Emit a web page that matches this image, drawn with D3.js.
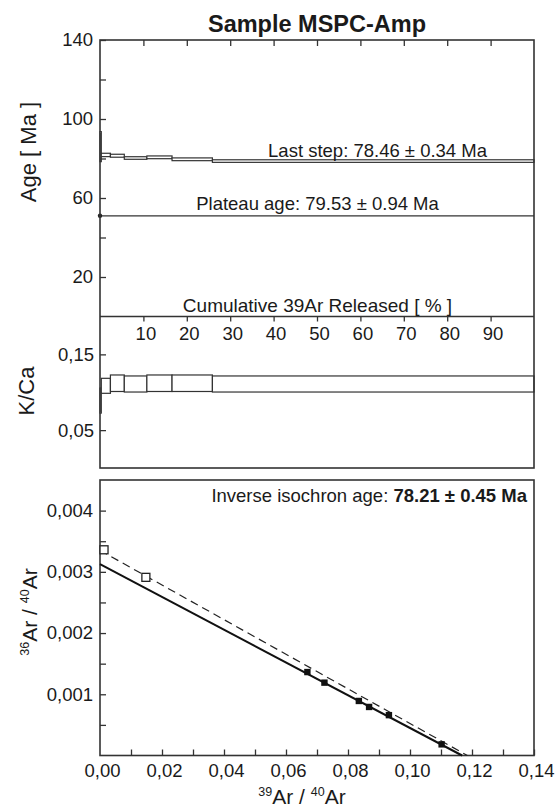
<!DOCTYPE html>
<html><head><meta charset="utf-8">
<script src="https://cdn.jsdelivr.net/npm/d3@7"></script>
<style>
body{margin:0;background:#fff;}
svg{display:block;font-family:"Liberation Sans",Arial,sans-serif;}
text{fill:#1a1a1a;}
</style></head>
<body><svg id="c" width="557" height="809"></svg>
<script>
// ---------- DATA ----------
// age spectrum steps: cumulative 39Ar start/end (%), age (Ma), error (Ma)
const stepStart = [0, 0.3, 2.4, 5.6, 10.8, 16.6, 25.9];
const stepEnd   = [0.3, 2.4, 5.6, 10.8, 16.6, 25.9, 100];
const stepAge   = [86.0, 81.8, 81.4, 80.25, 80.6, 79.6, 78.7];
const stepAgeErr= [7.6, 0.85, 0.75, 0.65, 0.7, 0.7, 0.65];
const stepKCa   = [0.089, 0.1085, 0.1119, 0.1109, 0.1119, 0.1119, 0.1109];
const stepKCaErr= [0.0165, 0.0099, 0.0109, 0.0106, 0.0109, 0.0109, 0.0106];
const plateauLineAge = 51;

// isochron points
const isoX = [0.0669, 0.0724, 0.0835, 0.0868, 0.0932, 0.1102];
const isoY = [0.001363, 0.00119, 0.000891, 0.000793, 0.000659, 0.000182];
const excludedX = [0.0013, 0.0148];
const excludedY = [0.00336, 0.00291];
const solidLine = [[0, 0.003125], [0.1168, 0]];
const dashedLine = [[0, 0.00335], [0.1185, 0]];

const ageTicks = [20, 40, 60, 80, 100, 120, 140];
const ageLabels = [20, 60, 100, 140];
const cumTicks = [10, 20, 30, 40, 50, 60, 70, 80, 90];
const kcaTicks = [0.05, 0.15];
const isoXTicks = [0.01,0.02,0.03,0.04,0.05,0.06,0.07,0.08,0.09,0.10,0.11,0.12,0.13,0.14];
const isoXLabels = [0, 0.02, 0.04, 0.06, 0.08, 0.10, 0.12, 0.14];
const isoYTicks = [0.0005,0.001,0.0015,0.002,0.0025,0.003,0.0035,0.004];
const isoYLabels = [0.001, 0.002, 0.003, 0.004];

// ---------- LAYOUT ----------
const svg = d3.select("#c");
const L = 100, R = 534;
const AGE_TOP = 40, AGE_BOT = 316.5, KCA_BOT = 468, ISO_TOP = 480, ISO_BOT = 755.5;
const col = "#333";

const xCum = d3.scaleLinear([0, 100], [L, R]);
const yAge = d3.scaleLinear([0, 140], [AGE_BOT, AGE_TOP]);
const yKCa = d3.scaleLinear([0, 0.2], [KCA_BOT, AGE_BOT]);
const xIso = d3.scaleLinear([0, 0.14], [L, R]);
const yIso = d3.scaleLinear([0, 0.0045], [ISO_BOT, ISO_TOP]);

const comma = f => d => d3.format(f)(d).replace(".", ",");
function styleAxis(g){
  g.select(".domain").remove();
  g.selectAll("line").attr("stroke", col).attr("stroke-width", 1.3);
  g.selectAll("text").attr("font-size", 18.5).attr("fill", "#1a1a1a")
   .attr("font-family", '"Liberation Sans",Arial,sans-serif');
}

// title
svg.append("text").attr("x", 317).attr("y", 32).attr("text-anchor", "middle")
  .attr("font-size", 23.5).attr("font-weight", "bold").text("Sample MSPC-Amp");

// ---- age spectrum ----
const steps = stepStart.map((s, i) => ({s, e: stepEnd[i], a: stepAge[i], ae: stepAgeErr[i], k: stepKCa[i], ke: stepKCaErr[i]}));
svg.append("g").selectAll("rect").data(steps).join("rect")
  .attr("x", d => xCum(d.s)).attr("width", d => xCum(d.e) - xCum(d.s))
  .attr("y", d => yAge(d.a + d.ae)).attr("height", d => yAge(d.a - d.ae) - yAge(d.a + d.ae))
  .attr("fill", "#fff").attr("stroke", col).attr("stroke-width", 1.2);

// plateau line
svg.append("line").attr("x1", L).attr("x2", R)
  .attr("y1", yAge(plateauLineAge)).attr("y2", yAge(plateauLineAge))
  .attr("stroke", col).attr("stroke-width", 1.3);
svg.append("circle").attr("cx", L).attr("cy", yAge(plateauLineAge)).attr("r", 2.2).attr("fill", "#222");

svg.append("text").attr("x", 487).attr("y", 156.5).attr("text-anchor", "end")
  .attr("font-size", 18.5).text("Last step: 78.46 ± 0.34 Ma");
svg.append("text").attr("x", 317.5).attr("y", 210).attr("text-anchor", "middle")
  .attr("font-size", 18.5).text("Plateau age: 79.53 ± 0.94 Ma");
svg.append("text").attr("x", 317.5).attr("y", 312).attr("text-anchor", "middle")
  .attr("font-size", 19).text("Cumulative 39Ar Released [ % ]");

// age axis
svg.append("g").attr("transform", `translate(${L},0)`)
  .call(d3.axisLeft(yAge).tickValues(ageTicks).tickSizeInner(-6).tickSizeOuter(0).tickPadding(7)
    .tickFormat(d => ageLabels.includes(d) ? d : ""))
  .call(styleAxis);
// top ticks
svg.append("g").attr("transform", `translate(0,${AGE_TOP})`)
  .call(d3.axisTop(xCum).tickValues(cumTicks).tickSizeInner(-6).tickSizeOuter(0).tickFormat(""))
  .call(styleAxis);
// cumulative axis
svg.append("g").attr("transform", `translate(2,${AGE_BOT})`)
  .call(d3.axisBottom(xCum).tickValues(cumTicks).tickSizeInner(5).tickSizeOuter(0).tickPadding(5.5))
  .call(g => { styleAxis(g); g.selectAll("line").attr("transform", "translate(-2,0)"); });

// ---- K/Ca ----
svg.append("g").selectAll("rect").data(steps).join("rect")
  .attr("x", d => xCum(d.s)).attr("width", d => xCum(d.e) - xCum(d.s))
  .attr("y", d => yKCa(d.k + d.ke)).attr("height", d => yKCa(d.k - d.ke) - yKCa(d.k + d.ke))
  .attr("fill", "#fff").attr("stroke", col).attr("stroke-width", 1.2);
svg.append("g").attr("transform", `translate(${L},0)`)
  .call(d3.axisLeft(yKCa).tickValues(kcaTicks).tickSizeInner(-6).tickSizeOuter(0).tickPadding(6)
    .tickFormat(comma(".2f")))
  .call(styleAxis);

// frames for upper panels
svg.append("rect").attr("x", L).attr("y", AGE_TOP).attr("width", R - L).attr("height", KCA_BOT - AGE_TOP)
  .attr("fill", "none").attr("stroke", col).attr("stroke-width", 1.6);
svg.append("line").attr("x1", L).attr("x2", R).attr("y1", AGE_BOT).attr("y2", AGE_BOT)
  .attr("stroke", col).attr("stroke-width", 1.6);

// axis titles upper
svg.append("text").attr("transform", "translate(36,152) rotate(-90)").attr("text-anchor", "middle")
  .attr("font-size", 22).text("Age [ Ma ]");
svg.append("text").attr("transform", "translate(34,391) rotate(-90)").attr("text-anchor", "middle")
  .attr("font-size", 22).text("K/Ca");

// ---- isochron ----
svg.append("rect").attr("x", L).attr("y", ISO_TOP).attr("width", R - L).attr("height", ISO_BOT - ISO_TOP)
  .attr("fill", "none").attr("stroke", col).attr("stroke-width", 1.6);

svg.append("g").attr("transform", `translate(2,${ISO_BOT})`)
  .call(d3.axisBottom(xIso).tickValues(isoXLabels.concat(isoXTicks.filter(t => !isoXLabels.some(l => Math.abs(l - t) < 1e-9))))
    .tickSizeInner(-6).tickSizeOuter(0).tickPadding(8.5)
    .tickFormat(d => isoXLabels.some(l => Math.abs(l - d) < 1e-9) ? comma(".2f")(d) : ""))
  .call(g => { styleAxis(g); g.selectAll("line").attr("transform", "translate(-2,0)"); g.selectAll(".tick").filter(d => d === 0).select("line").remove(); });

svg.append("g").attr("transform", `translate(${L},0)`)
  .call(d3.axisLeft(yIso).tickValues(isoYTicks).tickSizeInner(-6).tickSizeOuter(0).tickPadding(7)
    .tickFormat(d => isoYLabels.some(l => Math.abs(l - d) < 1e-9) ? comma(".3f")(d) : ""))
  .call(styleAxis);

const lineGen = d3.line().x(d => xIso(d[0])).y(d => yIso(d[1]));
svg.append("path").attr("d", lineGen(dashedLine)).attr("fill", "none")
  .attr("stroke", "#222").attr("stroke-width", 1.2).attr("stroke-dasharray", "8,5");
svg.append("path").attr("d", lineGen(solidLine)).attr("fill", "none")
  .attr("stroke", "#111").attr("stroke-width", 2);

svg.append("g").selectAll("rect").data(isoX.map((x, i) => [x, isoY[i]])).join("rect")
  .attr("x", d => xIso(d[0]) - 3.2).attr("y", d => yIso(d[1]) - 3.2)
  .attr("width", 6.4).attr("height", 6.4).attr("fill", "#111");
svg.append("g").selectAll("rect").data(excludedX.map((x, i) => [x, excludedY[i]])).join("rect")
  .attr("x", d => xIso(d[0]) - 4).attr("y", d => yIso(d[1]) - 4)
  .attr("width", 8).attr("height", 8).attr("fill", "#fff").attr("stroke", "#222").attr("stroke-width", 1.3);

const isoT = svg.append("text").attr("x", 527).attr("y", 501.5).attr("text-anchor", "end").attr("font-size", 18.5);
isoT.append("tspan").text("Inverse isochron age: ");
isoT.append("tspan").attr("font-weight", "bold").text("78.21 ± 0.45 Ma");

// iso axis titles
const xt = svg.append("text").attr("x", 302).attr("y", 804).attr("text-anchor", "middle").attr("font-size", 21);
xt.append("tspan").attr("font-size", 12.5).attr("dy", -8).text("39");
xt.append("tspan").attr("dy", 8).text("Ar / ");
xt.append("tspan").attr("font-size", 12.5).attr("dy", -8).text("40");
xt.append("tspan").attr("dy", 8).text("Ar");

const yt = svg.append("text").attr("transform", "translate(37,612) rotate(-90)").attr("text-anchor", "middle").attr("font-size", 21);
yt.append("tspan").attr("font-size", 12.5).attr("dy", -8).text("36");
yt.append("tspan").attr("dy", 8).text("Ar / ");
yt.append("tspan").attr("font-size", 12.5).attr("dy", -8).text("40");
yt.append("tspan").attr("dy", 8).text("Ar");
</script></body></html>
